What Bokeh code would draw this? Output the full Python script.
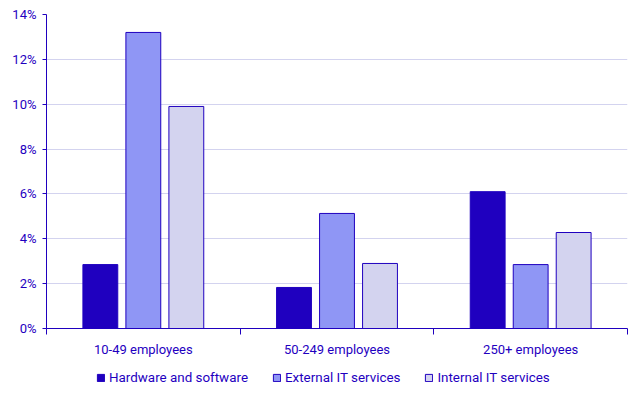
from bokeh.plotting import figure
from bokeh.layouts import column
from bokeh.models import ColumnDataSource, FixedTicker, Legend, LegendItem, Range1d
from bokeh.transform import dodge
from bokeh.embed import file_html
from bokeh.resources import INLINE

categories = ["10-49 employees", "50-249 employees", "250+ employees"]
hardware = [2.85, 1.83, 6.1]
external = [13.2, 5.13, 2.85]
internal = [9.9, 2.9, 4.28]
series_names = ["Hardware and software", "External IT services", "Internal IT services"]
y_ticks = [0, 2, 4, 6, 8, 10, 12, 14]

colors = ["#1f00bf", "#8f96f5", "#d3d3ef"]
text_color = "#1f00bf"
font = "Roboto"

x_centers = [i + 0.5 for i in range(len(categories))]
src = ColumnDataSource(dict(x=x_centers, hw=hardware, ext=external, int_=internal))

p = figure(width=635, height=362, output_backend="svg", toolbar_location=None,
           x_range=Range1d(0, 3), y_range=Range1d(0, 14),
           min_border_left=46, min_border_right=8, min_border_top=14, min_border_bottom=34)
p.outline_line_color = None

fields = ["hw", "ext", "int_"]
offsets = [-0.222, 0.0, 0.222]
for f, off, c in zip(fields, offsets, colors):
    p.vbar(x=dodge("x", off), top=f, width=0.18, bottom=0, source=src,
           fill_color=c, line_color=text_color, line_width=1)

# x axis
p.xaxis.ticker = FixedTicker(ticks=x_centers, minor_ticks=[0, 1, 2, 3])
p.xaxis.major_label_overrides = {x: c for x, c in zip(x_centers, categories)}
p.xaxis.major_tick_line_color = None
p.xaxis.major_tick_out = 6
p.xaxis.minor_tick_line_color = text_color
p.xaxis.minor_tick_out = 6
p.xaxis.minor_tick_in = 0
p.xaxis.axis_line_color = text_color
p.xaxis.major_label_text_color = text_color
p.xaxis.major_label_text_font = font
p.xaxis.major_label_text_font_size = "13px"
p.xaxis.major_label_standoff = 7

# y axis
p.yaxis.ticker = FixedTicker(ticks=y_ticks, minor_ticks=[])
p.yaxis.major_label_overrides = {t: f"{t}%" for t in y_ticks}
p.yaxis.axis_line_color = text_color
p.yaxis.major_tick_line_color = text_color
p.yaxis.major_tick_out = 4
p.yaxis.major_tick_in = 0
p.yaxis.major_label_text_color = text_color
p.yaxis.major_label_text_font = font
p.yaxis.major_label_text_font_size = "13px"
p.yaxis.major_label_standoff = 6

p.xgrid.grid_line_color = None
p.ygrid.ticker = FixedTicker(ticks=y_ticks[1:])
p.ygrid.grid_line_color = "#d3d3ef"
p.ygrid.grid_line_width = 1

# legend strip
lg = figure(width=635, height=30, output_backend="svg", toolbar_location=None,
            x_range=Range1d(0, 1), y_range=Range1d(0, 1),
            min_border_left=0, min_border_right=0, min_border_top=0, min_border_bottom=0)
lg.axis.visible = False
lg.grid.grid_line_color = None
lg.outline_line_color = None
hidden = ColumnDataSource(dict(x=[-5.0], top=[0.0]))
leg_renderers = [lg.vbar(x="x", top="top", width=0.1, source=hidden,
                         fill_color=c, line_color=text_color, line_width=1) for c in colors]
legend = Legend(items=[LegendItem(label=n, renderers=[r]) for n, r in zip(series_names, leg_renderers)],
                orientation="horizontal", location=(50, 7),
                glyph_width=9, glyph_height=9, label_standoff=4, spacing=24,
                label_text_color=text_color, label_text_font=font, label_text_font_size="13.4px",
                border_line_color=None, background_fill_alpha=0, padding=0, margin=0)
lg.add_layout(legend, "center")

layout = column(p, lg, spacing=0)
open("out.html", "w").write(file_html(layout, INLINE))
